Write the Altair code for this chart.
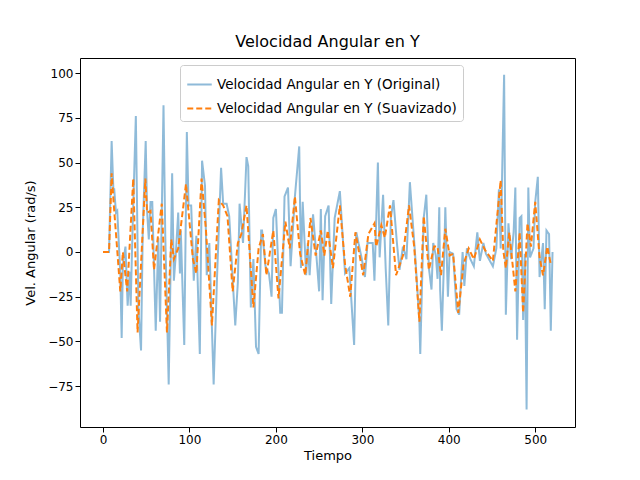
import pandas as pd
import altair as alt

# Original series: (tiempo, vel)
orig_t = [0, 7, 10, 12, 13, 15, 16.5, 20, 21.6, 23, 26, 28.5, 31, 32, 34, 38, 41, 44, 46, 49.4, 51, 53, 55, 57, 61, 64, 66, 70, 72, 76,
          80, 82, 84, 87, 89, 90, 94, 97, 99, 102, 105, 108, 112, 114.6, 118, 120, 123, 128, 132, 136.6, 139, 143, 146, 150, 153, 156, 158, 162, 166, 168,
          171, 174, 177, 180, 183, 184, 188, 192, 195, 197, 200, 205, 207, 210, 214, 217, 222, 227, 229, 231, 235, 237, 239, 243, 247, 250, 252, 254, 257, 261,
          264, 268, 274, 277, 280, 285, 290.5, 293, 299, 303, 306, 312, 314, 318, 320, 324, 327, 330, 333, 336, 340, 343, 347, 351, 355, 358, 361, 366, 367, 371,
          374, 377, 380, 382, 385, 387, 389, 390, 392, 395, 396, 399, 401, 405, 409, 412, 416, 418, 421, 425, 429, 433, 436, 440, 443, 451, 455, 458, 460, 464,
          466, 469, 472, 475, 477, 479, 482, 484, 486, 488, 490, 492, 494, 498, 500, 503, 505, 509, 511, 513, 516, 518, 520]
orig_v = [0, 0, 62, 35, 35, 22, 23, -12, -48, -7, 3, -30, -11, -30, 9, 76, -32, -55, 12, 62, 23, 7, 28, 28, -44, 8, -39, 82, 10, -74,
          44, -16, -3, 22, -12, 12, -52, 67, 26, 26, -16, 9, -57, 51, 37, -13, 5, -74, -13, 47, 27, 27, 20, -15, -41, -17, 27, 5, 53, 48,
          -31, -4, -53, -57, 12, 12, -8, -12, -25, 19, 24, -34, -34, 31, 36, -8, 31, 59, -9, 28, -13, 5, -13, 21, -3, -22, 24, -27, 20, 26,
          -29, 19, 34, 11, -12, -9, -52, 11, -3, -14, 5, 5, -16, 50, -3, 32, -9, -41, 19, 29, 5, -10, 3, -4, 39, 19, -1, -39, -57, 19,
          32, -9, -21, 5, -2, -15, 25, -21, -44, 4, 25, -25, 0, -1, -32, -35, 0, -19, 2, -4, -8, 11, -5, 5, -1, -8, 2, 35, 2, 99,
          -35, 16, -4, 11, 36, -49, 19, 20, -38, -1, -88, 36, -3, 2, 28, 42, -14, 5, -32, 12, 10, -44, 0]

# Smoothed series
smooth_t = [0, 7, 10, 13, 16, 20, 23, 28, 35, 40, 49, 51, 55, 59, 68, 74, 79, 82, 87, 96, 104, 108, 114, 119, 126, 134, 139, 144, 150, 156,
            160, 166, 174, 180, 185, 189, 197, 203, 211, 216, 222, 228, 234, 240, 246, 252, 256, 260, 266, 274, 280, 286, 292, 301, 307, 314, 316, 322, 326, 332,
            339, 347, 354, 360, 366, 371, 377, 383, 387, 391, 396, 401, 405, 411, 417, 423, 429, 436, 442, 451, 460, 463, 466, 470, 477, 482, 486, 491, 495, 500,
            505, 509, 514, 518]
smooth_v = [0, 0, 44, 23, 4, -22, 0, -22, 41, -45, 41, 22, 23, -10, 27, -45, 7, -4, 2, 38, -4, -12, 41, 13, -41, 29, 26, 20, -22, 5,
            10, 26, -31, 2, 10, -13, 12, -26, 17, 2, 31, -1, -13, 19, -2, 12, -2, 12, -9, 26, -7, -25, 11, -13, 10, 16, 3, 15, 8, 26,
            -13, -2, 26, 3, -39, 20, -10, 3, 3, -13, 13, -2, -1, -34, -7, 2, -4, 7, 1, -5, 40, 1, -9, 11, -22, 11, -34, 16, 3, 28,
            -3, -13, 3, -7]

names = ["Velocidad Angular en Y (Original)", "Velocidad Angular en Y (Suavizado)"]

df = pd.concat([
    pd.DataFrame({"t": orig_t, "v": orig_v, "serie": names[0]}),
    pd.DataFrame({"t": smooth_t, "v": smooth_v, "serie": names[1]}),
])

chart = (
    alt.Chart(df)
    .mark_line(strokeWidth=2)
    .encode(
        x=alt.X("t:Q", title="Tiempo", scale=alt.Scale(domain=[-26.6, 546], nice=False),
                axis=alt.Axis(values=[0, 100, 200, 300, 400, 500])),
        y=alt.Y("v:Q", title="Vel. Angular (rad/s)", scale=alt.Scale(domain=[-97.8, 108.4], nice=False),
                axis=alt.Axis(values=[-75, -50, -25, 0, 25, 50, 75, 100], titlePadding=10)),
        color=alt.Color("serie:N", scale=alt.Scale(domain=names, range=["#1f77b4", "#ff7f0e"]),
                        legend=alt.Legend(title=None, orient="none", legendX=100, legendY=7,
                                          symbolType="stroke", symbolSize=600, symbolStrokeWidth=2,
                                          labelFontSize=13.5, labelFont="DejaVu Sans", labelLimit=400,
                                          fillColor="white", strokeColor="#cccccc", padding=6,
                                          cornerRadius=3, rowPadding=4)),
        strokeDash=alt.StrokeDash("serie:N", scale=alt.Scale(domain=names, range=[[1, 0], [6, 3]]), legend=None),
        opacity=alt.Opacity("serie:N", scale=alt.Scale(domain=names, range=[0.5, 1.0]), legend=None),
        order="t:Q",
    )
    .properties(
        width=495, height=369,
        title=alt.Title("Velocidad Angular en Y", fontSize=16, fontWeight="normal", font="DejaVu Sans", offset=8),
        autosize=alt.AutoSizeParams(type="none"),
        padding={"left": 72, "top": 50, "right": 57, "bottom": 45},
    )
    .configure_view(stroke="black", strokeWidth=1)
    .configure_axis(grid=False, domain=False, tickColor="black", labelColor="black", titleColor="black",
                    labelFont="DejaVu Sans", titleFont="DejaVu Sans", labelFontSize=12, titleFontSize=13,
                    titleFontWeight="normal", tickSize=5)
)

chart.save("out.html", embed_options={"renderer": "svg", "actions": False})
